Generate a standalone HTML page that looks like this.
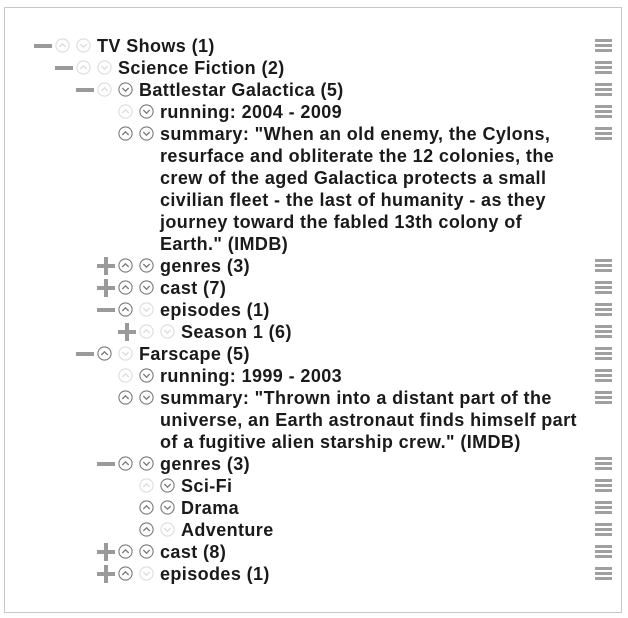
<!DOCTYPE html>
<html><head><meta charset="utf-8"><style>
body{margin:0;width:628px;height:618px;background:#fff;position:relative;overflow:hidden;font-family:"Liberation Sans",Arial,sans-serif;}
#box{position:absolute;left:4px;top:7px;width:616px;height:604px;border:1px solid #c8c8c8;}
.row{position:absolute;display:flex;align-items:flex-start;line-height:22px;font-size:18px;letter-spacing:0.4px;font-weight:bold;color:#1a1a1a;}
.tg{width:18px;height:22px;position:relative;margin-right:3px;flex:none}
.tg .h{position:absolute;left:0;top:9px;width:18px;height:4px;background:#9a9a9a}
.tg .v{position:absolute;left:7px;top:2px;width:4px;height:18px;background:#9a9a9a}
.ic{flex:none;margin-top:3px;width:15px;height:15px}
.ic.u{margin-right:6px}.ic.d{margin-right:6px}
.ham{position:absolute;left:595px;width:17px;height:13px}
.ham i{display:block;height:3px;background:#a0a0a0;margin-bottom:2px}
</style></head><body>
<div id="box"></div>
<div id="tree"></div>
<script>
const rows=[
[0,'m','L','L','TV Shows (1)',46],
[1,'m','L','L','Science Fiction (2)',68],
[2,'m','L','D','Battlestar Galactica (5)',90],
[3,'','L','D','running: 2004 - 2009',112],
[3,'','D','D','summary: "When an old enemy, the Cylons, resurface and obliterate the 12 colonies, the crew of the aged Galactica protects a small civilian fleet - the last of humanity - as they journey toward the fabled 13th colony of Earth." (IMDB)',134],
[3,'p','D','D','genres (3)',266],
[3,'p','D','D','cast (7)',288],
[3,'m','D','L','episodes (1)',310],
[4,'p','L','L','Season 1 (6)',332],
[2,'m','D','L','Farscape (5)',354],
[3,'','L','D','running: 1999 - 2003',376],
[3,'','D','D','summary: "Thrown into a distant part of the universe, an Earth astronaut finds himself part of a fugitive alien starship crew." (IMDB)',398],
[3,'m','D','D','genres (3)',464],
[4,'','L','D','Sci-Fi',486],
[4,'','D','D','Drama',508],
[4,'','D','L','Adventure',530],
[3,'p','D','D','cast (8)',552],
[3,'p','D','L','episodes (1)',574]
];
function circ(dir,st){
  const c=st==='D'?'#7a7a7a':'#dcdcdc';
  const pts=dir==='u'?'4.3,9 7.5,5.8 10.7,9':'4.3,6 7.5,9.2 10.7,6';
  return '<svg class="ic '+dir+'" viewBox="0 0 15 15"><circle cx="7.5" cy="7.5" r="6.6" fill="none" stroke="'+c+'" stroke-width="1.1"/><polyline points="'+pts+'" fill="none" stroke="'+c+'" stroke-width="1.3"/></svg>';
}
const tree=document.getElementById('tree');
rows.forEach(function(r){
  const L=r[0],y=r[5];
  const d=document.createElement('div');
  d.className='row';
  
  
  d.style.left=(34+21*L)+'px';
  d.style.top=(y-11)+'px';
  let tg='<div class="tg">';
  if(r[1]==='m')tg+='<div class="h"></div>';
  if(r[1]==='p')tg+='<div class="h"></div><div class="v"></div>';
  tg+='</div>';
  const tx=98+21*L;
  d.innerHTML=tg+circ('u',r[2])+circ('d',r[3])+'<span style="width:'+(585-tx)+'px">'+r[4].replace(/</g,'&lt;')+'</span>';
  tree.appendChild(d);
  const h=document.createElement('div');
  h.className='ham';
  
  
  h.style.top=(y-7)+'px';
  h.innerHTML='<i></i><i></i><i></i>';
  tree.appendChild(h);
});
</script>
</body></html>
